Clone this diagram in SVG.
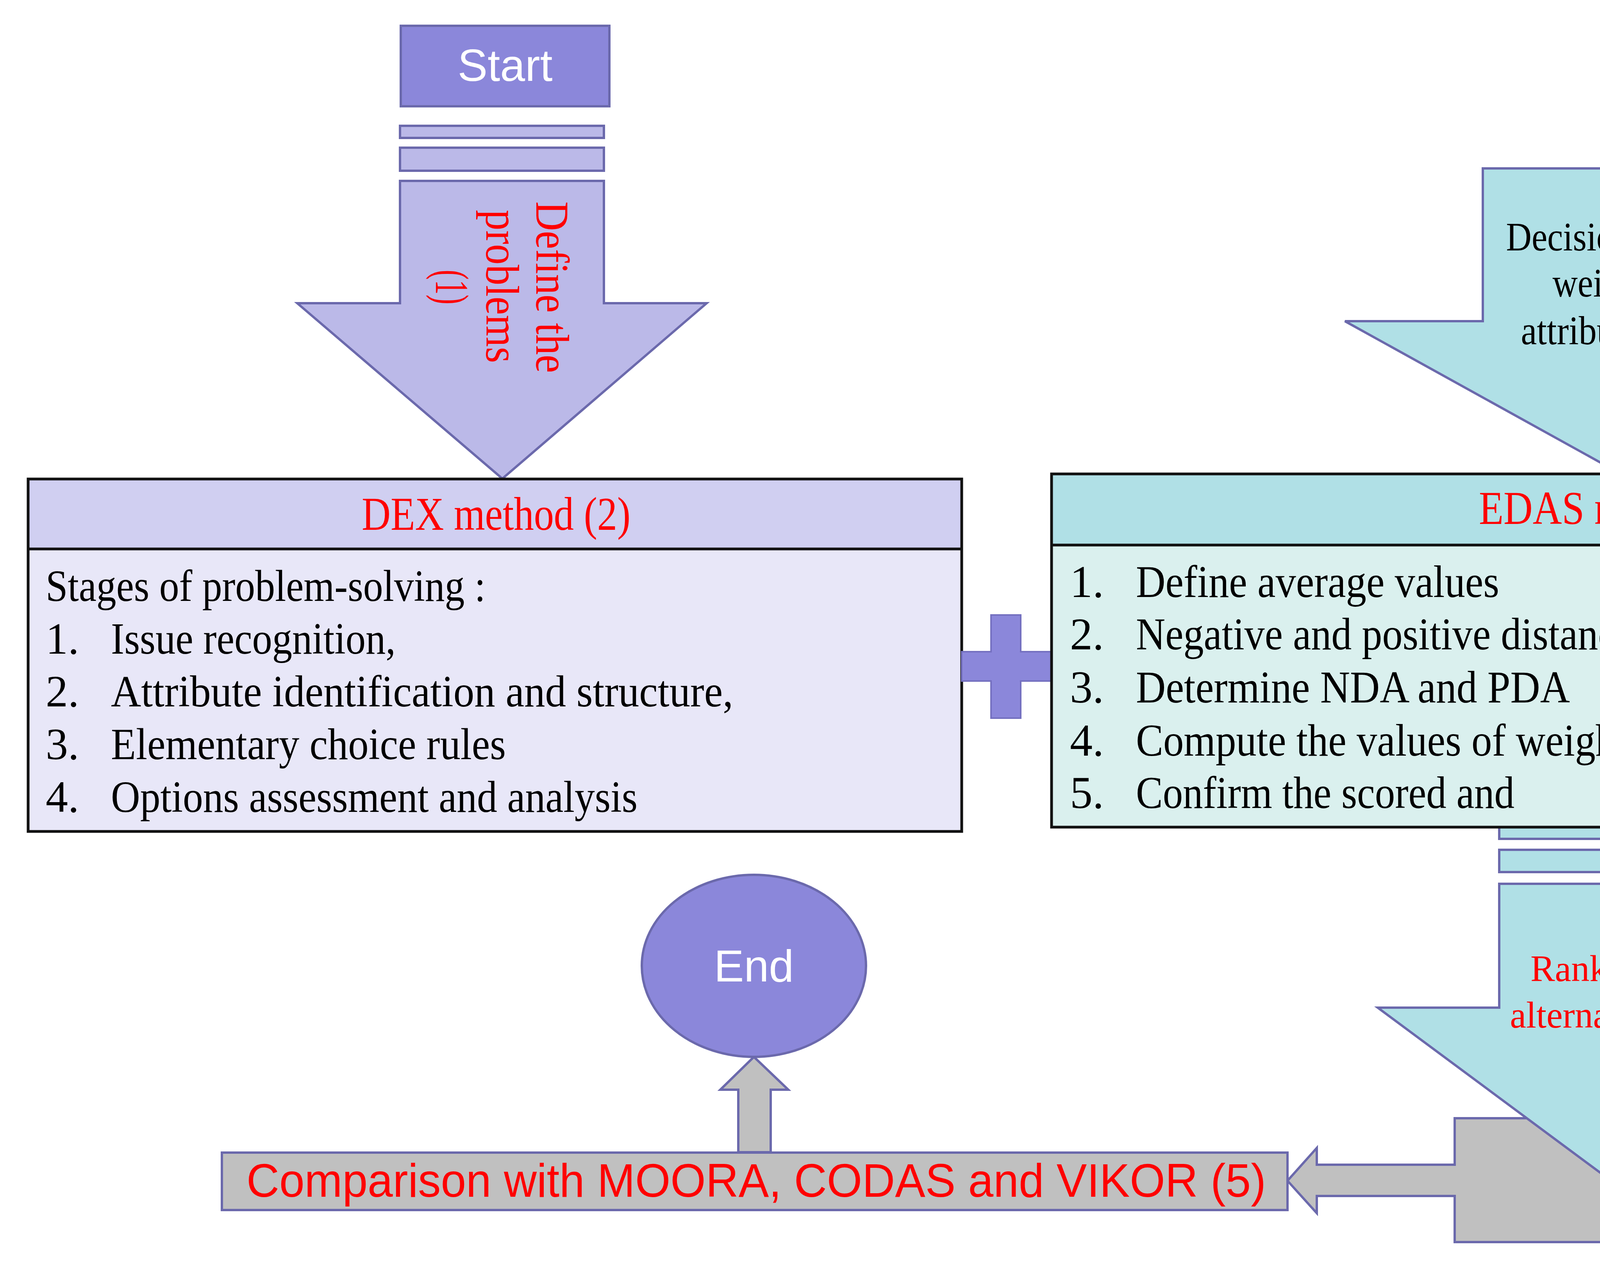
<svg xmlns="http://www.w3.org/2000/svg" width="5695" height="3230" viewBox="0 0 5695 3230">
<style>
.ps{stroke:#6B69AC;stroke-width:6;stroke-linejoin:miter}
.box{stroke:#111;stroke-width:7}
.ser{font-family:"Liberation Serif","Times New Roman",serif;fill:#000}
.red{fill:#FF0000}
.sans{font-family:"Liberation Sans",Arial,sans-serif}
.mid{text-anchor:middle}
</style>
<rect width="5695" height="3230" fill="#FFFFFF"/>

<g id="start">
<rect class="ps" x="1026" y="66" width="534" height="206" fill="#8B87DA"/>
<text class="sans mid" x="1293" y="207" font-size="115" fill="#FFFFFF">Start</text>
</g>

<g id="define-arrow">
<rect class="ps" x="1024" y="322" width="522" height="31" fill="#BBB9E8"/>
<rect class="ps" x="1024" y="378" width="522" height="59" fill="#BBB9E8"/>
<polygon class="ps" points="1024,463 1546,463 1546,776 1809,776 1286,1225 761,776 1024,776" fill="#BBB9E8"/>
<g class="ser red" font-size="120">
<text class="mid" transform="translate(1373,735) rotate(90)" x="0" y="0" textLength="439" lengthAdjust="spacingAndGlyphs" fill="#FF0000">Define the</text>
<text class="mid" transform="translate(1245,733) rotate(90)" x="0" y="0" textLength="392" lengthAdjust="spacingAndGlyphs" fill="#FF0000">problems</text>
<text class="mid" transform="translate(1116,735) rotate(90)" x="0" y="0" textLength="89" lengthAdjust="spacingAndGlyphs" fill="#FF0000">(1)</text>
</g>
</g>

<g id="decision-arrow">
<polygon class="ps" points="3796,431 4497,431 4497,822 4850,822 4148,1212 3443,822 3796,822" fill="#B0E0E6"/>
<g class="ser" font-size="104">
<text class="mid" x="4146" y="641" textLength="581" lengthAdjust="spacingAndGlyphs">Decision matrix</text>
<text class="mid" x="4144" y="759" textLength="339" lengthAdjust="spacingAndGlyphs">weight of</text>
<text class="mid" x="4145" y="881" textLength="503" lengthAdjust="spacingAndGlyphs">attributes (2’)</text>
</g>
</g>

<g id="dex">
<rect x="72" y="1226" width="2390" height="179" fill="#D0CFF1"/>
<rect x="72" y="1405" width="2390" height="723" fill="#E8E7F8"/>
<rect class="box" x="72" y="1226" width="2390" height="902" fill="none"/>
<line class="box" x1="72" y1="1405" x2="2462" y2="1405"/>
<text class="ser mid red" x="1270" y="1356" font-size="120" textLength="688" lengthAdjust="spacingAndGlyphs" fill="#FF0000">DEX method (2)</text>
<g class="ser" font-size="114">
<text x="117" y="1538" textLength="1126" lengthAdjust="spacingAndGlyphs">Stages of problem-solving :</text>
<text x="117" y="1673">1.</text>
<text x="284" y="1673" textLength="729" lengthAdjust="spacingAndGlyphs">Issue recognition,</text>
<text x="117" y="1808">2.</text>
<text x="284" y="1808" textLength="1593" lengthAdjust="spacingAndGlyphs">Attribute identification and structure,</text>
<text x="117" y="1943">3.</text>
<text x="284" y="1943" textLength="1011" lengthAdjust="spacingAndGlyphs">Elementary choice rules</text>
<text x="117" y="2078">4.</text>
<text x="284" y="2078" textLength="1348" lengthAdjust="spacingAndGlyphs">Options assessment and analysis</text>
</g>
</g>

<g id="plus">
<polygon points="2462,1668 2537,1668 2537,1574 2613,1574 2613,1668 2692,1668 2692,1743 2613,1743 2613,1838 2537,1838 2537,1743 2462,1743" fill="#8B87DA" stroke="#7470C0" stroke-width="4"/>
</g>

<g id="edas">
<rect class="ps" x="3838" y="2114" width="616" height="33" fill="#B0E0E6"/>
<rect class="ps" x="3838" y="2175" width="616" height="57" fill="#B0E0E6"/>
<rect x="2692" y="1213" width="2937" height="182" fill="#B0E0E6"/>
<rect x="2692" y="1395" width="2937" height="722" fill="#DAF0EE"/>
<rect class="box" x="2692" y="1213" width="2937" height="904" fill="none"/>
<line class="box" x1="2692" y1="1395" x2="5629" y2="1395"/>
<text class="ser mid red" x="4162" y="1341" font-size="120" textLength="752" lengthAdjust="spacingAndGlyphs" fill="#FF0000">EDAS method (3)</text>
<g class="ser" font-size="116">
<text x="2739" y="1528">1.</text>
<text x="2908" y="1528" textLength="930" lengthAdjust="spacingAndGlyphs">Define average values</text>
<text x="2739" y="1662">2.</text>
<text x="2908" y="1662" textLength="2088" lengthAdjust="spacingAndGlyphs">Negative and positive distances from the averages</text>
<text x="2739" y="1798">3.</text>
<text x="2908" y="1798" textLength="1111" lengthAdjust="spacingAndGlyphs">Determine NDA and PDA</text>
<text x="2739" y="1934">4.</text>
<text x="2908" y="1934" textLength="2018" lengthAdjust="spacingAndGlyphs">Compute the values of weighted NDA and PDA</text>
<text x="2739" y="2068">5.</text>
<text x="2908" y="2068" textLength="969" lengthAdjust="spacingAndGlyphs">Confirm the scored and</text>
</g>
</g>

<g id="connectors">
<polygon class="ps" points="3724,2862 4524,2862 4524,3179 3724,3179 3724,3061 3371,3061 3371,3105 3296,3022 3371,2938 3371,2981 3724,2981" fill="#C0C0C0"/>
<polygon class="ps" points="1890,2949 1890,2789 1844,2789 1930,2705 2018,2789 1973,2789 1973,2949" fill="#C0C0C0"/>
</g>

<g id="ranking-arrow">
<polygon class="ps" points="3838,2262 4454,2262 4454,2579 4764,2579 4146,3038 3527,2579 3838,2579" fill="#B0E0E6"/>
<g class="ser red" font-size="96">
<text class="mid" x="4146" y="2511" textLength="456" lengthAdjust="spacingAndGlyphs" fill="#FF0000">Ranking the</text>
<text class="mid" x="4147" y="2630" textLength="563" lengthAdjust="spacingAndGlyphs" fill="#FF0000">alternatives (4)</text>
</g>
</g>

<g id="end">
<ellipse class="ps" cx="1930" cy="2472" rx="287" ry="233" fill="#8B87DA"/>
<text class="sans mid" x="1930" y="2512" font-size="115" fill="#FFFFFF">End</text>
</g>

<g id="comparison">
<rect class="ps" x="568" y="2950" width="2728" height="147" fill="#C0C0C0"/>
<text class="sans" x="631" y="3063" font-size="120" textLength="2610" lengthAdjust="spacingAndGlyphs" fill="#FF0000">Comparison with MOORA, CODAS and VIKOR (5)</text>
</g>
</svg>
